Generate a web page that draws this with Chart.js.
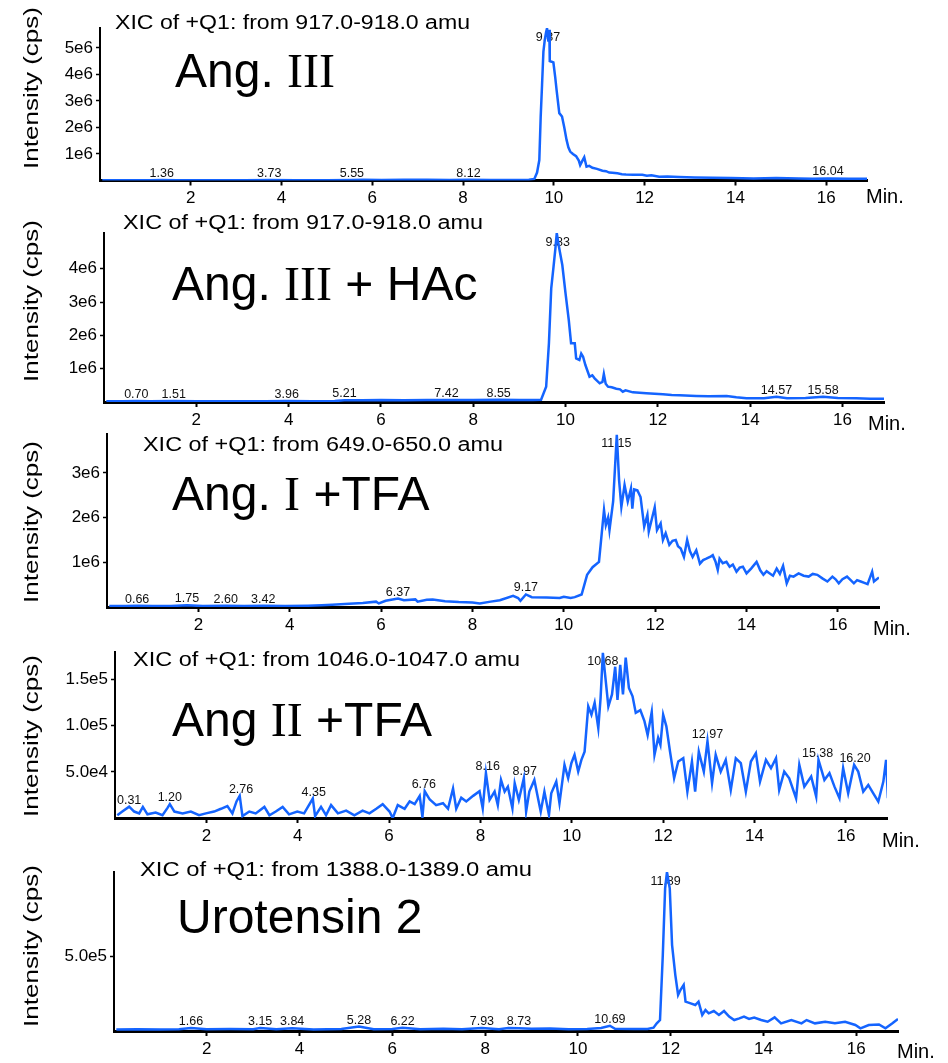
<!DOCTYPE html>
<html lang="en">
<head>
<meta charset="UTF-8">
<title>XIC chromatograms</title>
<script src="https://cdn.jsdelivr.net/npm/chart.js"></script>
<style>
    body { margin: 0; background: #fff; }
    #stack { position: relative; width: 948px; height: 1063px; }
    #stack canvas { position: absolute; left: 0; top: 0; }
</style>
</head>
<body>
<div id="stack">
    <canvas id="c1" width="948" height="1063"></canvas>
    <canvas id="c2" width="948" height="1063"></canvas>
    <canvas id="c3" width="948" height="1063"></canvas>
    <canvas id="c4" width="948" height="1063"></canvas>
    <canvas id="c5" width="948" height="1063"></canvas>
</div>

<script>
// shared time axis (min)
const xTicks = [2, 4, 6, 8, 10, 12, 14, 16];

// Ang. III, 917.0-918.0 amu  [time, intensity in 1e6 cps]
const angIII = [
    [0.05,0.01],[0.6,0.01],[1.1,0.01],[1.36,0.02],[1.7,0.01],[2.4,0.01],[3.2,0.01],[3.73,0.02],
    [4.3,0.01],[5.0,0.01],[5.55,0.02],[5.8,0.03],[6.2,0.02],[6.7,0.03],[7.2,0.03],[7.7,0.02],
    [8.12,0.03],[8.6,0.02],[9.1,0.02],[9.45,0.03],[9.57,0.06],[9.63,0.3],[9.68,0.77],[9.71,2.4],
    [9.74,3.6],[9.77,4.86],[9.80,5.3],[9.83,5.6],[9.85,5.74],[9.88,5.24],[9.90,5.68],[9.91,4.5],
    [9.95,4.48],[9.99,4.45],[10.03,3.9],[10.06,3.42],[10.12,2.54],[10.18,2.41],[10.23,2.0],[10.28,1.53],
    [10.32,1.25],[10.36,1.09],[10.42,1.0],[10.49,0.92],[10.55,0.75],[10.58,0.58],[10.63,0.75],[10.67,0.88],
    [10.72,0.52],[10.78,0.55],[10.85,0.48],[10.95,0.44],[11.07,0.37],[11.15,0.35],[11.22,0.3],[11.29,0.29],
    [11.4,0.27],[11.5,0.24],[11.59,0.23],[11.75,0.22],[11.95,0.22],[12.05,0.18],[12.15,0.2],[12.32,0.14],
    [12.5,0.15],[12.76,0.13],[13.1,0.11],[13.5,0.1],[13.9,0.09],[14.4,0.08],[14.9,0.09],[15.4,0.08],
    [15.7,0.07],[16.04,0.08],[16.5,0.07],[16.9,0.07]
];
const angIIIPeaks = [1.36, 3.73, 5.55, 8.12, 9.87, 16.04];

// Ang. III + HAc, 917.0-918.0 amu  [time, 1e6 cps]
const angIIIHAc = [
    [0.05,0.02],[0.4,0.02],[0.70,0.03],[1.0,0.02],[1.51,0.03],[2.0,0.02],[2.8,0.02],[3.5,0.02],
    [3.96,0.03],[4.5,0.02],[5.0,0.03],[5.21,0.05],[5.6,0.05],[6.0,0.06],[6.5,0.05],[7.0,0.06],
    [7.42,0.06],[8.0,0.06],[8.55,0.07],[9.0,0.06],[9.3,0.06],[9.47,0.07],[9.58,0.46],[9.64,1.76],
    [9.69,3.41],[9.74,4.06],[9.78,4.6],[9.81,5.07],[9.84,4.8],[9.87,4.56],[9.93,4.11],[10.0,3.26],
    [10.07,2.46],[10.12,1.76],[10.2,1.76],[10.23,1.31],[10.3,1.26],[10.34,1.45],[10.38,1.36],[10.43,1.11],
    [10.52,0.76],[10.58,0.8],[10.63,0.71],[10.74,0.56],[10.8,0.6],[10.83,0.84],[10.87,0.55],[10.92,0.46],
    [11.0,0.44],[11.1,0.40],[11.18,0.38],[11.24,0.31],[11.3,0.35],[11.46,0.29],[11.75,0.26],[12.11,0.23],
    [12.3,0.21],[12.47,0.20],[12.83,0.18],[13.1,0.17],[13.49,0.18],[13.7,0.14],[13.92,0.11],[14.3,0.11],
    [14.57,0.16],[14.8,0.11],[15.2,0.12],[15.58,0.16],[15.9,0.12],[16.3,0.11],[16.6,0.1],[16.9,0.1]
];
const angIIIHAcPeaks = [0.70, 1.51, 3.96, 5.21, 7.42, 8.55, 9.83, 14.57, 15.58];

// Ang. I + TFA, 649.0-650.0 amu  [time, 1e6 cps]
const angI = [
    [0.05,0.02],[0.4,0.02],[0.66,0.03],[1.0,0.02],[1.4,0.02],[1.75,0.04],[2.1,0.02],[2.6,0.03],
    [3.0,0.02],[3.42,0.03],[3.9,0.02],[4.4,0.03],[4.7,0.04],[4.93,0.05],[5.3,0.07],[5.6,0.09],
    [5.89,0.12],[5.95,0.08],[6.1,0.14],[6.37,0.19],[6.5,0.15],[6.75,0.17],[6.8,0.12],[7.0,0.16],
    [7.13,0.17],[7.4,0.13],[7.7,0.11],[8.0,0.10],[8.16,0.08],[8.4,0.12],[8.6,0.15],[8.89,0.25],
    [9.0,0.2],[9.05,0.14],[9.17,0.28],[9.3,0.22],[9.62,0.21],[9.91,0.20],[10.0,0.23],[10.15,0.2],
    [10.24,0.22],[10.39,0.28],[10.51,0.72],[10.63,0.89],[10.77,1.01],[10.88,2.17],[10.92,1.83],[10.97,2.0],
    [11.0,1.72],[11.08,2.36],[11.16,3.85],[11.21,2.84],[11.26,2.24],[11.33,2.73],[11.4,2.36],[11.47,2.65],
    [11.5,2.2],[11.54,2.63],[11.61,2.61],[11.68,2.46],[11.76,1.80],[11.83,2.06],[11.86,1.69],[11.93,1.98],
    [11.99,2.23],[12.04,1.72],[12.12,1.87],[12.17,1.50],[12.23,1.65],[12.31,1.39],[12.38,1.48],[12.45,1.50],
    [12.5,1.36],[12.56,1.31],[12.63,1.12],[12.7,1.5],[12.76,1.25],[12.82,1.12],[12.9,1.27],[12.98,0.97],
    [13.05,1.05],[13.12,1.08],[13.2,1.12],[13.26,1.16],[13.32,1.02],[13.37,0.83],[13.41,1.08],[13.48,0.98],
    [13.56,1.01],[13.63,0.90],[13.7,0.95],[13.78,0.79],[13.85,0.88],[13.92,0.90],[14.0,0.75],[14.1,0.86],
    [14.22,1.01],[14.3,0.82],[14.37,0.72],[14.44,0.8],[14.51,0.75],[14.58,0.7],[14.66,0.86],[14.73,0.74],
    [14.8,0.92],[14.88,0.53],[14.95,0.7],[15.03,0.68],[15.14,0.75],[15.25,0.7],[15.36,0.68],[15.45,0.74],
    [15.55,0.72],[15.66,0.64],[15.77,0.57],[15.88,0.68],[15.95,0.62],[16.02,0.53],[16.1,0.62],[16.2,0.68],
    [16.28,0.6],[16.35,0.53],[16.42,0.6],[16.5,0.57],[16.58,0.54],[16.65,0.51],[16.75,0.79],[16.79,0.57],
    [16.9,0.66]
];
const angIPeaks = [0.66, 1.75, 2.60, 3.42, 6.37, 9.17, 11.15];

// Ang II + TFA, 1046.0-1047.0 amu  [time, 1e4 cps]
const angII = [
    [0.05,0.3],[0.16,0.7],[0.31,1.23],[0.42,0.7],[0.53,0.5],[0.61,1.2],[0.71,0.4],[0.89,0.6],
    [1.04,0.3],[1.15,1.1],[1.2,1.5],[1.3,0.7],[1.48,0.5],[1.66,0.7],[1.84,0.3],[1.99,0.5],
    [2.17,0.7],[2.32,1.0],[2.46,1.3],[2.57,0.5],[2.66,1.8],[2.73,2.4],[2.79,0.2],[2.94,0.7],
    [3.08,0.5],[3.27,1.2],[3.38,0.3],[3.52,0.7],[3.67,1.2],[3.81,0.4],[3.99,0.7],[4.14,0.5],
    [4.33,2.1],[4.38,0.2],[4.51,1.2],[4.62,0.3],[4.73,1.4],[4.88,0.5],[5.06,0.8],[5.24,0.3],
    [5.42,0.8],[5.57,0.5],[5.72,1.0],[5.86,1.5],[6.01,0.7],[6.08,0.0],[6.19,1.4],[6.34,1.0],
    [6.45,1.8],[6.56,1.5],[6.67,2.4],[6.73,0.1],[6.78,2.9],[6.89,2.0],[7.03,1.4],[7.18,1.6],
    [7.29,1.0],[7.4,3.2],[7.47,1.0],[7.58,2.2],[7.69,1.8],[7.84,2.4],[7.98,2.9],[8.05,1.05],
    [8.12,4.86],[8.2,1.96],[8.31,2.86],[8.38,1.41],[8.45,4.13],[8.53,2.86],[8.6,3.4],[8.7,1.05],
    [8.75,3.77],[8.84,1.96],[8.95,4.31],[9.0,0.69],[9.07,2.86],[9.18,4.13],[9.26,2.14],[9.32,0.69],
    [9.4,2.86],[9.5,0.33],[9.55,2.68],[9.66,3.95],[9.73,1.6],[9.84,5.76],[9.92,4.31],[9.99,5.94],
    [10.06,6.85],[10.14,5.03],[10.21,6.3],[10.28,7.2],[10.36,12.1],[10.43,11.2],[10.5,12.5],[10.58,9.75],
    [10.63,13.0],[10.68,17.9],[10.73,15.5],[10.8,12.1],[10.88,13.4],[10.95,16.4],[11.0,12.8],[11.06,16.6],
    [11.12,13.4],[11.18,17.4],[11.25,14.1],[11.33,13.2],[11.4,11.4],[11.5,11.7],[11.59,10.5],[11.66,9.0],
    [11.75,11.5],[11.81,6.85],[11.89,8.7],[11.94,7.94],[12.0,11.2],[12.07,9.94],[12.15,7.2],[12.24,4.31],
    [12.33,6.12],[12.44,6.48],[12.53,2.86],[12.63,6.12],[12.7,2.86],[12.78,7.2],[12.89,5.03],[12.97,8.33],
    [13.07,3.77],[13.15,6.85],[13.26,5.03],[13.37,6.3],[13.48,3.04],[13.59,6.48],[13.7,5.94],[13.81,2.86],
    [13.92,6.12],[14.03,7.03],[14.12,3.95],[14.25,6.3],[14.36,5.4],[14.47,6.48],[14.54,3.04],[14.65,5.03],
    [14.76,4.31],[14.91,2.14],[14.98,5.76],[15.09,3.4],[15.24,4.5],[15.35,2.32],[15.4,6.3],[15.53,4.13],
    [15.64,4.86],[15.75,3.4],[15.86,2.14],[15.94,5.4],[16.05,2.68],[16.18,5.76],[16.27,5.03],[16.38,2.86],
    [16.49,3.59],[16.6,2.68],[16.71,1.78],[16.82,3.95],[16.88,6.3],[16.92,2.14]
];
const angIIPeaks = [0.31, 1.20, 2.76, 4.35, 6.76, 8.16, 8.97, 10.68, 12.97, 15.38, 16.20];

// Urotensin 2, 1388.0-1389.0 amu  [time, 1e5 cps]
const urotensin = [
    [0.05,0.1],[0.5,0.12],[1.0,0.1],[1.4,0.12],[1.66,0.2],[2.0,0.12],[2.5,0.13],[3.0,0.12],
    [3.15,0.2],[3.5,0.12],[3.84,0.18],[4.3,0.1],[4.9,0.14],[5.28,0.3],[5.6,0.12],[6.0,0.13],
    [6.22,0.22],[6.6,0.12],[7.1,0.15],[7.5,0.12],[7.93,0.2],[8.3,0.12],[8.5,0.2],[8.73,0.18],
    [9.0,0.15],[9.4,0.17],[9.8,0.12],[10.2,0.14],[10.5,0.2],[10.69,0.35],[10.8,0.15],[11.2,0.13],
    [11.5,0.14],[11.63,0.22],[11.7,0.51],[11.77,0.73],[11.83,5.07],[11.88,9.51],[11.92,10.6],[11.98,9.51],
    [12.03,5.73],[12.1,3.73],[12.16,2.4],[12.21,2.73],[12.28,3.07],[12.32,1.96],[12.43,1.84],[12.53,1.73],
    [12.6,1.96],[12.68,1.07],[12.75,1.4],[12.82,1.18],[12.93,1.33],[13.04,1.07],[13.15,1.33],[13.26,0.96],
    [13.37,0.73],[13.48,0.84],[13.58,0.96],[13.69,0.8],[13.8,0.89],[13.95,0.73],[14.09,0.62],[14.24,0.91],
    [14.38,0.51],[14.6,0.73],[14.82,0.51],[14.93,0.73],[15.11,0.51],[15.33,0.62],[15.54,0.51],[15.76,0.62],
    [15.98,0.4],[16.09,0.18],[16.27,0.4],[16.49,0.44],[16.63,0.18],[16.78,0.51],[16.9,0.8]
];
const urotensinPeaks = [1.66, 3.15, 3.84, 5.28, 6.22, 7.93, 8.73, 10.69, 11.89];

// y tick values (cps) and their printed labels
const yTicks1 = [1e6, 2e6, 3e6, 4e6, 5e6];
const yLabels1 = ['1e6', '2e6', '3e6', '4e6', '5e6'];
const yTicks2 = [1e6, 2e6, 3e6, 4e6];
const yLabels2 = ['1e6', '2e6', '3e6', '4e6'];
const yTicks3 = [1e6, 2e6, 3e6];
const yLabels3 = ['1e6', '2e6', '3e6'];
const yTicks4 = [5e4, 1e5, 1.5e5];
const yLabels4 = ['5.0e4', '1.0e5', '1.5e5'];
const yTicks5 = [5e5];
const yLabels5 = ['5.0e5'];

const sans = "'Liberation Sans', Arial, sans-serif";
const serif = "'Liberation Serif', 'Times New Roman', serif";
const blue = '#1464ff';
const W = 948, H = 1063;
const yAxisW = 60, xAxisH = 30;

const panels = [
    { id: 'c1', trace: angIII, unit: 1e6, peaks: angIIIPeaks, yTicks: yTicks1, yLabels: yLabels1, yMax: 5.75e6,
      area: { left: 100, right: 867, top: 28, bottom: 180.5 },
      title: 'XIC of +Q1: from 917.0-918.0 amu', titleAt: [115, 29, 355],
      label: [['Ang. ', sans], ['III', serif]], labelAt: [175, 87],
      yTitleY: 88, minAt: [866, 203] },
    { id: 'c2', trace: angIIIHAc, unit: 1e6, peaks: angIIIHAcPeaks, yTicks: yTicks2, yLabels: yLabels2, yMax: 5.07e6,
      area: { left: 104, right: 884, top: 233, bottom: 402 },
      title: 'XIC of +Q1: from 917.0-918.0 amu', titleAt: [123, 229, 360],
      label: [['Ang. ', sans], ['III', serif], [' + HAc', sans]], labelAt: [172, 300],
      yTitleY: 301, minAt: [868, 430] },
    { id: 'c3', trace: angI, unit: 1e6, peaks: angIPeaks, yTicks: yTicks3, yLabels: yLabels3, yMax: 3.87e6,
      area: { left: 107, right: 879, top: 434, bottom: 607 },
      title: 'XIC of +Q1: from 649.0-650.0 amu', titleAt: [143, 451, 360],
      label: [['Ang. ', sans], ['I', serif], [' +TFA', sans]], labelAt: [172, 510],
      yTitleY: 522, minAt: [873, 635] },
    { id: 'c4', trace: angII, unit: 1e4, peaks: angIIPeaks, yTicks: yTicks4, yLabels: yLabels4, yMax: 1.8e5,
      area: { left: 115, right: 887, top: 652, bottom: 818 },
      title: 'XIC of +Q1: from 1046.0-1047.0 amu', titleAt: [133, 666, 387],
      label: [['Ang ', sans], ['II', serif], [' +TFA', sans]], labelAt: [172, 736],
      yTitleY: 736, minAt: [882, 847] },
    { id: 'c5', trace: urotensin, unit: 1e5, peaks: urotensinPeaks, yTicks: yTicks5, yLabels: yLabels5, yMax: 1.06e6,
      area: { left: 114, right: 898, top: 872, bottom: 1031 },
      title: 'XIC of +Q1: from 1388.0-1389.0 amu', titleAt: [140, 876, 392],
      label: [['Urotensin 2', sans]], labelAt: [177, 933],
      yTitleY: 946, minAt: [897, 1058] }
];

// draw text stretched to a given width
function fitText(c, txt, x, y, width) {
    const w = c.measureText(txt).width;
    c.save();
    c.translate(x, y);
    c.scale(width / w, 1);
    c.fillText(txt, 0, 0);
    c.restore();
}

function peakHeight(trace, t) {
    let best = null;
    trace.forEach(d => {
        if (Math.abs(d[0] - t) <= 0.08 && (best === null || d[1] > best)) best = d[1];
    });
    if (best === null) {
        let near = trace[0];
        trace.forEach(d => { if (Math.abs(d[0] - t) < Math.abs(near[0] - t)) near = d; });
        best = near[1];
    }
    return best;
}

function makeChart(p) {
    const textPlugin = {
        id: 'panelText',
        beforeDatasetsDraw(chart) {
            // retention time labels above peaks
            const c = chart.ctx, xs = chart.scales.x, ys = chart.scales.y;
            c.save();
            c.font = '12.5px ' + sans;
            c.fillStyle = '#111';
            c.textAlign = 'center';
            c.textBaseline = 'alphabetic';
            p.peaks.forEach(t => {
                let yb = ys.getPixelForValue(peakHeight(p.trace, t) * p.unit) - 3;
                yb = Math.max(yb, chart.chartArea.top + 12.5);
                c.fillText(t.toFixed(2), xs.getPixelForValue(t), yb);
            });
            c.restore();
        },
        afterDraw(chart) {
            const c = chart.ctx;
            c.save();
            c.fillStyle = '#000';
            c.textBaseline = 'alphabetic';
            c.textAlign = 'left';

            c.font = '20px ' + sans;
            fitText(c, p.title, p.titleAt[0], p.titleAt[1], p.titleAt[2]);

            let x = p.labelAt[0];
            p.label.forEach(([txt, fam]) => {
                c.font = '48px ' + fam;
                c.fillText(txt, x, p.labelAt[1]);
                x += c.measureText(txt).width;
            });

            c.font = '20px ' + sans;
            c.fillText('Min.', p.minAt[0], p.minAt[1]);

            c.translate(38, p.yTitleY);
            c.rotate(-Math.PI / 2);
            c.font = '21px ' + sans;
            c.textAlign = 'center';
            const w = c.measureText('Intensity (cps)').width;
            c.scale(162 / w, 1);
            c.fillText('Intensity (cps)', 0, 0);
            c.restore();
        }
    };

    new Chart(document.getElementById(p.id), {
        type: 'line',
        data: {
            datasets: [{
                data: p.trace.map(d => ({ x: d[0], y: d[1] * p.unit })),
                borderColor: blue,
                borderWidth: 2.5,
                pointRadius: 0,
                tension: 0,
                fill: false
            }]
        },
        options: {
            responsive: false,
            animation: false,
            events: [],
            layout: {
                padding: {
                    left: p.area.left - yAxisW,
                    right: W - p.area.right,
                    top: p.area.top,
                    bottom: H - p.area.bottom - xAxisH
                }
            },
            plugins: { legend: { display: false }, tooltip: { enabled: false } },
            scales: {
                x: {
                    type: 'linear', min: 0, max: 16.9,
                    afterBuildTicks: s => { s.ticks = xTicks.map(v => ({ value: v })); },
                    afterFit: s => { s.height = xAxisH; },
                    ticks: { autoSkip: false, maxRotation: 0, padding: 3, color: '#000',
                             font: { family: sans, size: 17 }, callback: v => String(v) },
                    grid: { drawOnChartArea: false, color: '#000', tickLength: 5, tickWidth: 2 },
                    border: { color: '#000', width: 3 }
                },
                y: {
                    type: 'linear', min: 0, max: p.yMax,
                    afterBuildTicks: s => { s.ticks = p.yTicks.map(v => ({ value: v })); },
                    afterFit: s => { s.width = yAxisW; },
                    ticks: { autoSkip: false, padding: 3, color: '#000',
                             font: { family: sans, size: 17 }, callback: (v, i) => p.yLabels[i] },
                    grid: { drawOnChartArea: false, color: '#000', tickLength: 4, tickWidth: 1.5 },
                    border: { color: '#000', width: 2 }
                }
            }
        },
        plugins: [textPlugin]
    });
}

panels.forEach(makeChart);
</script>
</body>
</html>
